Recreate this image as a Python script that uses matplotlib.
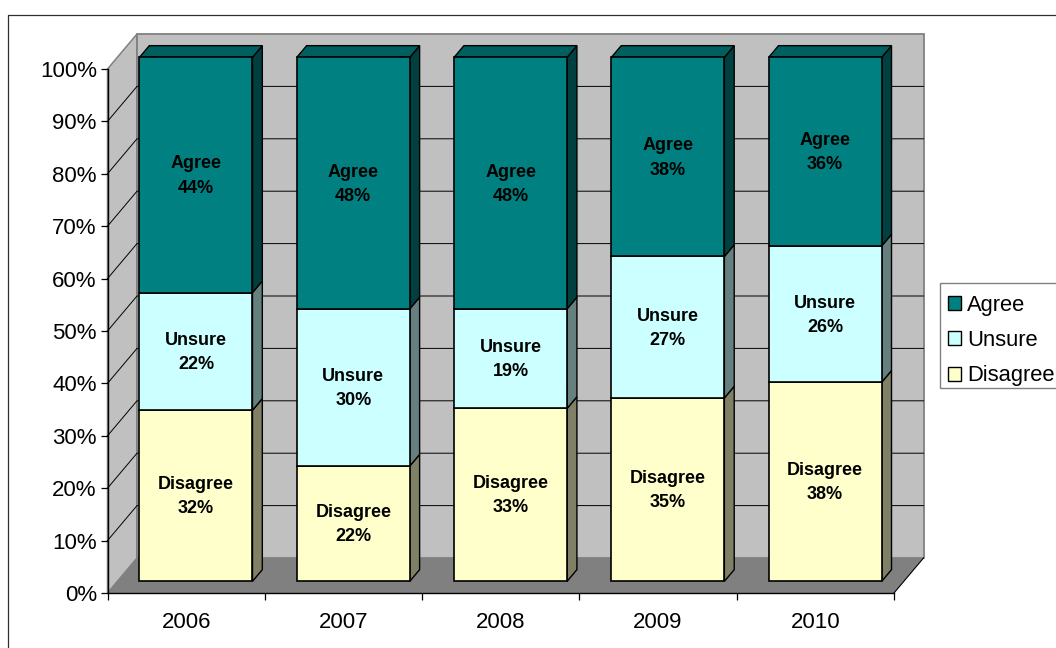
import matplotlib
matplotlib.use('Agg')
import matplotlib.pyplot as plt
from matplotlib.lines import Line2D
from matplotlib.patches import Polygon, Rectangle
import numpy as np

years = ['2006', '2007', '2008', '2009', '2010']
series_names = ['Disagree', 'Unsure', 'Agree']
disagree = [32, 22, 33, 35, 38]
unsure = [22, 30, 19, 27, 26]
agree = [44, 48, 48, 38, 36]

front_colors = ['#FFFFCC', '#CCFFFF', '#008080']
side_colors = ['#808066', '#668080', '#004040']
top_color = '#006060'

W, H = 1056, 648
# oblique depth of the chart box, in data units
DX = 29.5 / 157.3
DY = 35 / 524 * 100
BAR_W = 113 / 157.3

plt.rcParams['font.family'] = ['Liberation Sans', 'DejaVu Sans']

fig = plt.figure(figsize=(W / 100, H / 100), dpi=100)
ax = fig.add_axes([107.5 / W, (H - 593) / H, 786.5 / W, 524 / H])
ax.set_xlim(0, len(years))
ax.set_ylim(0, 100)
ax.patch.set_visible(False)


def shape(ax, pts, color, edge='none', lw=0, z=1):
    ax.add_patch(Polygon(pts, closed=True, facecolor=color, edgecolor=edge, linewidth=lw,
                         zorder=z, clip_on=False, joinstyle='miter'))


n = len(years)
# walls and floor
shape(ax, [(0, 0), (0, 100), (DX, 100 + DY), (DX, DY)], '#C0C0C0', '#808080', 1.1, 0.5)
shape(ax, [(DX, DY), (DX, 100 + DY), (n + DX, 100 + DY), (n + DX, DY)], '#C0C0C0', '#808080', 1.3, 0.6)
shape(ax, [(0, 0), (n, 0), (n + DX, DY), (DX, DY)], '#808080', z=0.9)
ax.plot([n, n + DX], [0, DY], color='black', lw=0.8, zorder=0.95, clip_on=False)

for y in range(10, 100, 10):
    ax.plot([0, DX, n + DX], [y, y + DY, y + DY], color='black', lw=0.7, zorder=0.8, clip_on=False)

# bars
values = np.array([disagree, unsure, agree], dtype=float)
shares = values / values.sum(axis=0) * 100
x = np.arange(n) + 0.5 + DX / 3
bottom = np.full(n, DY / 3)
for k, name in enumerate(series_names):
    rects = ax.bar(x, shares[k], BAR_W, bottom=bottom, color=front_colors[k], edgecolor='black',
                   linewidth=1.2, zorder=3, label=name)
    for i, rect in enumerate(rects):
        rect.set_clip_on(False)
        right = x[i] + BAR_W / 2
        y0, y1 = bottom[i], bottom[i] + shares[k][i]
        shape(ax, [(right, y0), (right, y1), (right + DX / 3, y1 + DY / 3), (right + DX / 3, y0 + DY / 3)],
              side_colors[k], 'black', 1.0, 2.5)
        ax.text(x[i], (y0 + y1) / 2 - 0.2, f'{name}\n{int(values[k][i])}%', ha='center', va='center',
                fontsize=13, fontweight='bold', linespacing=1.55, zorder=4, color='black')
    bottom = bottom + shares[k]

for i in range(n):
    left = x[i] - BAR_W / 2
    right = x[i] + BAR_W / 2
    top = bottom[i]
    shape(ax, [(left, top), (right, top), (right + DX / 3, top + DY / 3), (left + DX / 3, top + DY / 3)],
          top_color, 'black', 1.0, 2.5)

# axes
for side in ['top', 'right']:
    ax.spines[side].set_visible(False)
for side in ['left', 'bottom']:
    ax.spines[side].set_linewidth(1.0)
ax.set_yticks(np.arange(0, 101, 10))
ax.set_yticklabels([f'{v}%' for v in range(0, 101, 10)])
ax.set_xticks(np.arange(n + 1))
ax.set_xticklabels([])
ax.set_xticks(np.arange(n) + 0.5, minor=True)
ax.set_xticklabels(years, minor=True)
ax.tick_params(axis='x', which='major', length=5.2, width=0.9)
ax.tick_params(axis='x', which='minor', length=0, labelsize=16, pad=14)
ax.tick_params(axis='y', length=5.2, width=0.9, labelsize=16, pad=2.5)

# legend frame runs off the right side of the canvas, as in the source
fig.add_artist(Rectangle((940 / W, (H - 388) / H), 140 / W, 105.5 / H, transform=fig.transFigure,
                         facecolor='white', edgecolor='#808080', lw=1.0))
handles, labels = ax.get_legend_handles_labels()
leg = fig.legend(handles[::-1], labels[::-1], loc='upper left', bbox_to_anchor=(948 / W, (H - 294.5) / H),
                 fontsize=15.8, frameon=False, borderpad=0, borderaxespad=0, handlelength=0.6,
                 handleheight=0.6, handletextpad=0.28, labelspacing=0.66)
for h in leg.legend_handles:
    h.set_linewidth(1.0)

# outer chart frame, only top and left fall on the canvas
fig.add_artist(Line2D([8 / W, 8 / W, 1], [0, (H - 15) / H, (H - 15) / H], transform=fig.transFigure,
                      color='#303030', lw=0.9))

plt.savefig('out.png', dpi=100)
